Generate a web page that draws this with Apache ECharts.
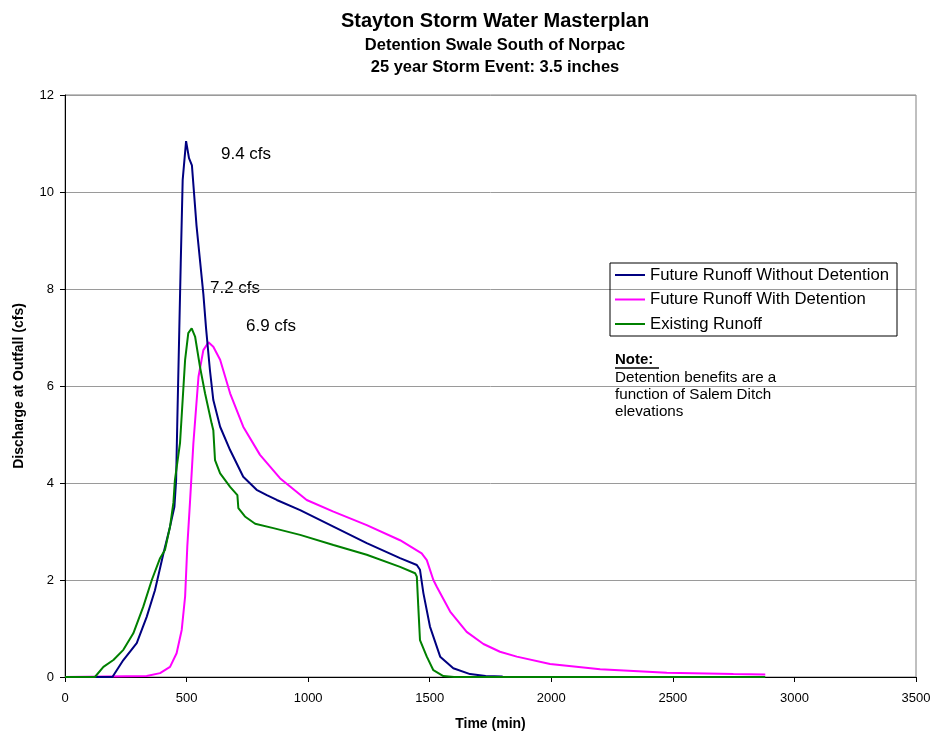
<!DOCTYPE html>
<html>
<head>
<meta charset="utf-8">
<script src="https://cdn.jsdelivr.net/npm/echarts@6/dist/echarts.min.js"></script>
<style>
html,body{margin:0;padding:0;background:#fff;}
#c{width:935px;height:732px;}
</style>
</head>
<body>
<div id="c"></div>
<script>
// ---- data (time in minutes, discharge in cfs) ----
const seriesNames = ['Future Runoff Without Detention', 'Future Runoff With Detention', 'Existing Runoff'];

const blueT = [0, 195, 240, 295, 336, 370, 405, 432, 450, 457, 462, 470, 476, 484, 498, 510, 522, 541, 555, 569, 580, 596, 610, 638, 679, 733, 788, 830, 871, 967, 1104, 1241, 1378, 1447, 1460, 1474, 1501, 1543, 1597, 1666, 1730, 1800];
const blueV = [0, 0, 0.35, 0.70, 1.24, 1.79, 2.55, 3.10, 3.51, 4.06, 5.30, 7.15, 8.53, 10.25, 11.05, 10.70, 10.55, 9.30, 8.60, 7.90, 7.20, 6.33, 5.71, 5.16, 4.68, 4.13, 3.86, 3.75, 3.65, 3.44, 3.10, 2.76, 2.45, 2.31, 2.21, 1.73, 1.04, 0.42, 0.18, 0.06, 0.02, 0.01];

const magT = [0, 336, 391, 432, 459, 480, 494, 503, 514, 528, 549, 569, 590, 610, 638, 679, 733, 802, 884, 994, 1104, 1241, 1378, 1467, 1488, 1515, 1529, 1584, 1652, 1721, 1789, 1858, 1995, 2201, 2475, 2749, 2880];
const magV = [0, 0.02, 0.08, 0.21, 0.49, 0.97, 1.66, 2.69, 3.60, 4.82, 6.19, 6.74, 6.90, 6.81, 6.54, 5.85, 5.16, 4.58, 4.10, 3.65, 3.41, 3.13, 2.82, 2.55, 2.41, 2.00, 1.86, 1.35, 0.93, 0.68, 0.52, 0.42, 0.27, 0.16, 0.09, 0.06, 0.05];

const greenT = [0, 123, 158, 199, 240, 281, 322, 357, 391, 411, 432, 446, 452, 473, 494, 507, 521, 535, 555, 576, 603, 610, 617, 638, 679, 709, 713, 740, 782, 857, 967, 1104, 1241, 1378, 1440, 1447, 1453, 1460, 1488, 1515, 1556, 1600, 2880];
const greenV = [0, 0, 0.21, 0.35, 0.56, 0.90, 1.45, 2.00, 2.45, 2.62, 3.10, 3.60, 4.06, 4.82, 6.54, 7.09, 7.19, 7.02, 6.40, 5.85, 5.23, 5.09, 4.47, 4.20, 3.92, 3.75, 3.48, 3.31, 3.16, 3.07, 2.93, 2.72, 2.52, 2.27, 2.14, 2.07, 1.45, 0.76, 0.42, 0.14, 0.02, 0, 0];

const xTicks = [0, 500, 1000, 1500, 2000, 2500, 3000, 3500];
const yTicks = [0, 2, 4, 6, 8, 10, 12];

const peakLabels = ['9.4 cfs', '7.2 cfs', '6.9 cfs'];
const titleLines = ['Stayton Storm Water Masterplan', 'Detention Swale South of Norpac', '25 year Storm Event: 3.5 inches'];
const noteLines = ['Detention benefits are a', 'function of Salem Ditch', 'elevations'];

// ---- chart ----
const F = '"Liberation Sans", Arial, sans-serif';
const zip = (t, v) => t.map((x, i) => [x, v[i]]);
const colors = ['#000080', '#FF00FF', '#008000'];

const chart = echarts.init(document.getElementById('c'), null, {renderer: 'canvas'});
chart.setOption({
  animation: false,
  backgroundColor: '#fff',
  title: [
    {text: titleLines[0], left: 490, top: 6, textAlign: 'center', textStyle: {fontFamily: F, fontSize: 20, fontWeight: 'bold', color: '#000'}},
    {text: titleLines[1], left: 490, top: 32, textAlign: 'center', textStyle: {fontFamily: F, fontSize: 16.5, fontWeight: 'bold', color: '#000'}},
    {text: titleLines[2], left: 490, top: 54, textAlign: 'center', textStyle: {fontFamily: F, fontSize: 16.5, fontWeight: 'bold', color: '#000'}}
  ],
  legend: {
    orient: 'vertical',
    left: 610, top: 263,
    padding: [3, 8, 3, 5],
    borderColor: '#000', borderWidth: 1,
    itemWidth: 30, itemHeight: 2, itemGap: 6.5,
    icon: 'rect',
    data: seriesNames,
    textStyle: {fontFamily: F, fontSize: 16.7, color: '#000', lineHeight: 18}
  },
  grid: {left: 65, right: 19, top: 95, bottom: 55, show: true, borderColor: '#808080', borderWidth: 1, containLabel: false, outerBoundsMode: 'none'},
  xAxis: {
    type: 'value', min: 0, max: 3500, interval: 500,
    name: 'Time (min)', nameLocation: 'middle', nameGap: 40,
    nameTextStyle: {fontFamily: F, fontSize: 14, fontWeight: 'bold', color: '#000'},
    axisLine: {onZero: false, lineStyle: {color: '#000', width: 1}},
    axisTick: {show: true, length: 5, lineStyle: {color: '#000'}},
    axisLabel: {fontFamily: F, fontSize: 13, color: '#000', margin: 15, formatter: v => xTicks.includes(v) ? String(v) : ''},
    splitLine: {show: false}
  },
  yAxis: {
    type: 'value', min: 0, max: 12, interval: 2,
    name: 'Discharge at Outfall (cfs)', nameLocation: 'middle', nameGap: 39,
    nameTextStyle: {fontFamily: F, fontSize: 14, fontWeight: 'bold', color: '#000'},
    axisLine: {show: true, onZero: false, lineStyle: {color: '#000', width: 1}},
    axisTick: {show: true, length: 5, lineStyle: {color: '#000'}},
    axisLabel: {fontFamily: F, fontSize: 13, color: '#000', margin: 11, formatter: v => yTicks.includes(v) ? String(v) : ''},
    splitLine: {show: true, lineStyle: {color: '#9a9a9a', width: 1}}
  },
  series: [
    {name: seriesNames[0], type: 'line', data: zip(blueT, blueV), showSymbol: false, symbol: 'none', lineStyle: {color: colors[0], width: 2}, itemStyle: {color: colors[0]}, z: 3},
    {name: seriesNames[1], type: 'line', data: zip(magT, magV), showSymbol: false, symbol: 'none', lineStyle: {color: colors[1], width: 2}, itemStyle: {color: colors[1]}, z: 2},
    {name: seriesNames[2], type: 'line', data: zip(greenT, greenV), showSymbol: false, symbol: 'none', lineStyle: {color: colors[2], width: 2}, itemStyle: {color: colors[2]}, z: 4}
  ],
  graphic: [
    {type: 'text', left: 221, top: 146, style: {text: peakLabels[0], font: '17px ' + F, fill: '#000'}},
    {type: 'text', left: 210, top: 280, style: {text: peakLabels[1], font: '17px ' + F, fill: '#000'}},
    {type: 'text', left: 246, top: 318, style: {text: peakLabels[2], font: '17px ' + F, fill: '#000'}},
    {type: 'text', left: 615, top: 352, style: {text: 'Note:', font: 'bold 15px ' + F, fill: '#000'}},
    {type: 'line', shape: {x1: 615, y1: 368, x2: 659, y2: 368}, style: {stroke: '#000', lineWidth: 1.5}},
    {type: 'text', left: 615, top: 369, style: {text: noteLines.join('\n'), font: '15.2px ' + F, fill: '#000', lineHeight: 17}}
  ]
});
</script>
</body>
</html>
